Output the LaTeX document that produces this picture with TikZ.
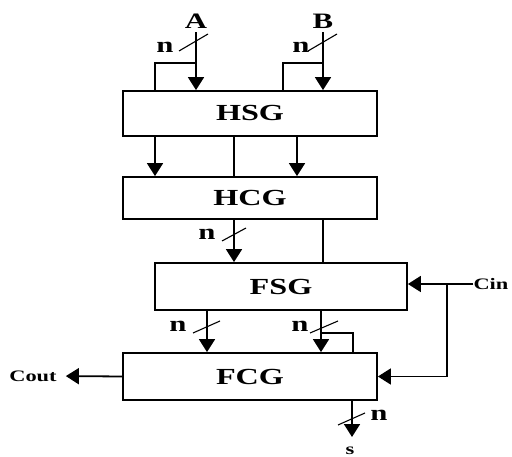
\documentclass[tikz,border=0pt]{standalone}
\usepackage{fontspec}
\setmainfont{Liberation Serif}[FakeStretch=1.4]
\usetikzlibrary{arrows.meta}
\begin{document}
\begin{tikzpicture}[x=1pt,y=-1pt,
  blk/.style={draw,line width=1.8pt,minimum height=45pt,inner sep=0pt,font=\fontsize{23}{23}\selectfont\bfseries},
  wire/.style={line width=1.8pt},
  arr/.style={wire,-{Triangle[width=16pt,length=13pt]}},
  lbl/.style={inner sep=0pt,font=\fontsize{22}{22}\selectfont\bfseries},
  nlbl/.style={inner sep=0pt,font=\fontsize{22}{22}\selectfont\bfseries},
  sml/.style={inner sep=0pt,font=\fontsize{16}{16}\selectfont\bfseries},
  slash/.style={line width=1.1pt}]
\useasboundingbox (0,0) rectangle (512,457);
% blocks
\node[blk,minimum width=254pt,minimum height=45pt] (hsg) at (250,113.5) {HSG};
\node[blk,minimum width=254pt,minimum height=42pt] (hcg) at (250,198) {HCG};
\node[blk,minimum width=252pt,minimum height=47pt] (fsg) at (281,286.5) {FSG};
\node[blk,minimum width=254pt,minimum height=47pt] (fcg) at (250,376.5) {FCG};
% x positions
\coordinate (x155) at (155,0);
\coordinate (x207) at (207,0);
\coordinate (x234) at (234,0);
\coordinate (x297) at (297,0);
\coordinate (x321) at (321,0);
\coordinate (x323) at (323,0);
\coordinate (x353) at (353,0);
% inputs A, B
\node[lbl] (A) at (196,21) {A};
\node[lbl] (B) at (323,21) {B};
\draw[arr,shorten <=4pt] (A.south) -- (A.south |- hsg.north);
\draw[arr,shorten <=4pt] (B.south) -- (B.south |- hsg.north);
\coordinate (ja) at (196,63);
\coordinate (jb) at (323,63);
\draw[wire] (ja) -| (hsg.north -| x155);
\coordinate (x283) at (283,0);
\draw[wire] (jb) -| (hsg.north -| x283);
\coordinate (sa1) at (179,51); \coordinate (sa2) at (208,34);
\coordinate (sb1) at (308,51); \coordinate (sb2) at (337,34);
\draw[slash] (sa1) -- (sa2);
\draw[slash] (sb1) -- (sb2);
\node[nlbl] (na) at (165,47) {n};
\node[nlbl] (nb) at (301,47) {n};
% HSG -> HCG
\draw[arr] (hsg.south -| x155) -- (hcg.north -| x155);
\draw[wire] (hsg.south -| x234) -- (hcg.north -| x234);
\draw[arr] (hsg.south -| x297) -- (hcg.north -| x297);
% HCG -> FSG
\draw[arr] (hcg.south -| x234) -- (fsg.north -| x234);
\draw[wire] (hcg.south -| x323) -- (fsg.north -| x323);
\coordinate (sc1) at (222,241); \coordinate (sc2) at (246,228);
\draw[slash] (sc1) -- (sc2);
\node[nlbl] (nc) at (207,234) {n};
% cin
\node[sml] (cin) at (491,284) {Cin};
\draw[arr] (cin.west) -- (cin.west -| fsg.east);
\coordinate (jc) at (447,284);
\draw[arr] (jc) |- (fcg.east);
% FSG -> FCG
\draw[arr] (fsg.south -| x207) -- (fcg.north -| x207);
\draw[arr] (fsg.south -| x321) -- (fcg.north -| x321);
\coordinate (sd1) at (193,333); \coordinate (sd2) at (220,321);
\coordinate (se1) at (310,333); \coordinate (se2) at (338,321);
\draw[slash] (sd1) -- (sd2);
\draw[slash] (se1) -- (se2);
\node[nlbl] (nd) at (178,326) {n};
\node[nlbl] (ne) at (300,326) {n};
\coordinate (je) at (321,333);
\draw[wire] (je) -| (fcg.north -| x353);
% Cout
\node[sml] (cout) at (33,376) {Cout};
\draw[arr,shorten >=9pt] (fcg.west) -- (cout.east);
% output s
\coordinate (x352) at (352,0);
\coordinate (sout) at (352,437);
\draw[arr] (fcg.south -| x352) -- (sout);
\coordinate (sf1) at (338,425); \coordinate (sf2) at (365,413);
\draw[slash] (sf1) -- (sf2);
\node[nlbl] (nf) at (379,415) {n};
\node[sml] (s) at (350,451) {s};
\end{tikzpicture}
\end{document}
